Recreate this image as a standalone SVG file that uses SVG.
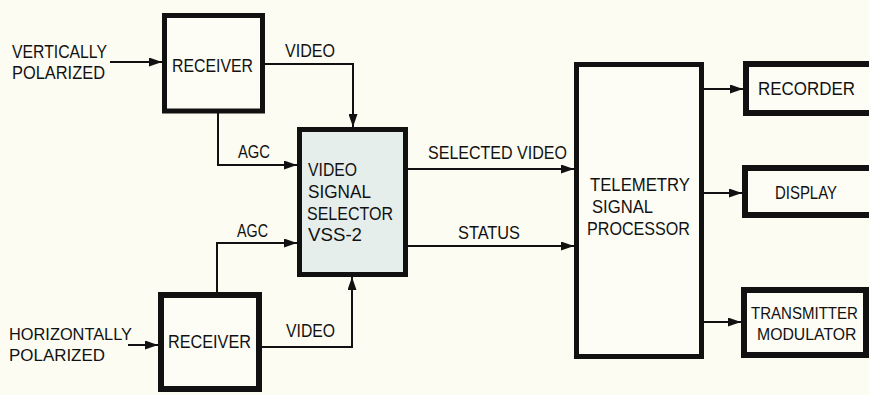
<svg xmlns="http://www.w3.org/2000/svg" width="869" height="395" viewBox="0 0 869 395">
<style>
.bg{fill:#fcfcf2}
.box{fill:#fdfdf6;stroke:#111;stroke-width:5}
.box6{fill:#fdfdf6;stroke:#111;stroke-width:6}
.sel{fill:#e6eeec;stroke:#111;stroke-width:5}
.t{font-family:"Liberation Sans",Arial,sans-serif;font-size:18px;fill:#111}
.s{font-size:17px}
.c{fill:none;stroke:#111;stroke-width:2}
</style>
<defs>
<marker id="ah" markerUnits="userSpaceOnUse" markerWidth="14" markerHeight="9" refX="13" refY="4.5" orient="auto">
<path d="M0,0 L13,4.5 L0,9 z" fill="#111"/>
</marker>
</defs>
<rect class="bg" x="0" y="0" width="869" height="395"/>

<g id="connectors">
<path class="c" d="M110,62 H162" marker-end="url(#ah)"/>
<path class="c" d="M265,64 H353 V127" marker-end="url(#ah)"/>
<path class="c" d="M218,113 V165 H297" marker-end="url(#ah)"/>
<path class="c" d="M217,292 V243 H297" marker-end="url(#ah)"/>
<path class="c" d="M262,347 H352 V277" marker-end="url(#ah)"/>
<path class="c" d="M128,345 H158" marker-end="url(#ah)"/>
<path class="c" d="M408,169 H574" marker-end="url(#ah)"/>
<path class="c" d="M408,246 H574" marker-end="url(#ah)"/>
<path class="c" d="M704,89 H743" marker-end="url(#ah)"/>
<path class="c" d="M704,193 H742" marker-end="url(#ah)"/>
<path class="c" d="M704,322 H741" marker-end="url(#ah)"/>
<text class="t" x="285" y="57" textLength="50" lengthAdjust="spacingAndGlyphs">VIDEO</text>
<text class="t" x="238" y="158" textLength="32" lengthAdjust="spacingAndGlyphs">AGC</text>
<text class="t" x="237" y="237" textLength="31" lengthAdjust="spacingAndGlyphs">AGC</text>
<text class="t" x="286" y="337" textLength="49" lengthAdjust="spacingAndGlyphs">VIDEO</text>
<text class="t" x="428" y="159" textLength="139" lengthAdjust="spacingAndGlyphs">SELECTED VIDEO</text>
<text class="t" x="458" y="239" textLength="62" lengthAdjust="spacingAndGlyphs">STATUS</text>
</g>

<g id="input-vertical">
<text class="t" x="12" y="58" textLength="95" lengthAdjust="spacingAndGlyphs">VERTICALLY</text>
<text class="t" x="12" y="79" textLength="93" lengthAdjust="spacingAndGlyphs">POLARIZED</text>
</g>

<g id="input-horizontal">
<text class="t s" x="9" y="340" textLength="123" lengthAdjust="spacingAndGlyphs">HORIZONTALLY</text>
<text class="t s" x="9" y="361" textLength="96" lengthAdjust="spacingAndGlyphs">POLARIZED</text>
</g>

<g id="receiver-top">
<rect class="box" x="164.5" y="15.5" width="98" height="95.5"/>
<text class="t" x="172" y="72" textLength="81" lengthAdjust="spacingAndGlyphs">RECEIVER</text>
</g>

<g id="receiver-bottom">
<rect class="box6" x="161" y="295" width="98" height="94"/>
<text class="t" x="168" y="348" textLength="83" lengthAdjust="spacingAndGlyphs">RECEIVER</text>
</g>

<g id="selector">
<rect class="sel" x="299.5" y="129.5" width="106" height="145"/>
<text class="t" x="308" y="176" textLength="49" lengthAdjust="spacingAndGlyphs">VIDEO</text>
<text class="t" x="308" y="198" textLength="63" lengthAdjust="spacingAndGlyphs">SIGNAL</text>
<text class="t" x="307" y="220" textLength="86" lengthAdjust="spacingAndGlyphs">SELECTOR</text>
<text class="t" x="308" y="241" textLength="54" lengthAdjust="spacingAndGlyphs">VSS-2</text>
</g>

<g id="processor">
<rect class="box" x="576.5" y="64.5" width="125" height="292"/>
<text class="t" x="590" y="191" textLength="100" lengthAdjust="spacingAndGlyphs">TELEMETRY</text>
<text class="t" x="592" y="213" textLength="61" lengthAdjust="spacingAndGlyphs">SIGNAL</text>
<text class="t" x="587" y="235" textLength="103" lengthAdjust="spacingAndGlyphs">PROCESSOR</text>
</g>

<g id="recorder">
<rect class="box6" x="746" y="64" width="130" height="49"/>
<text class="t" x="758" y="95" textLength="97" lengthAdjust="spacingAndGlyphs">RECORDER</text>
</g>

<g id="display">
<rect class="box6" x="745" y="168" width="130" height="47"/>
<text class="t" x="775" y="199" textLength="62" lengthAdjust="spacingAndGlyphs">DISPLAY</text>
</g>

<g id="transmitter">
<rect class="box6" x="744" y="290" width="122" height="65"/>
<text class="t s" transform="translate(751,319) scale(0.885,1)">TRANSMITTER</text>
<text class="t s" transform="translate(757,340) scale(0.93,1)">MODULATOR</text>
</g>
</svg>
